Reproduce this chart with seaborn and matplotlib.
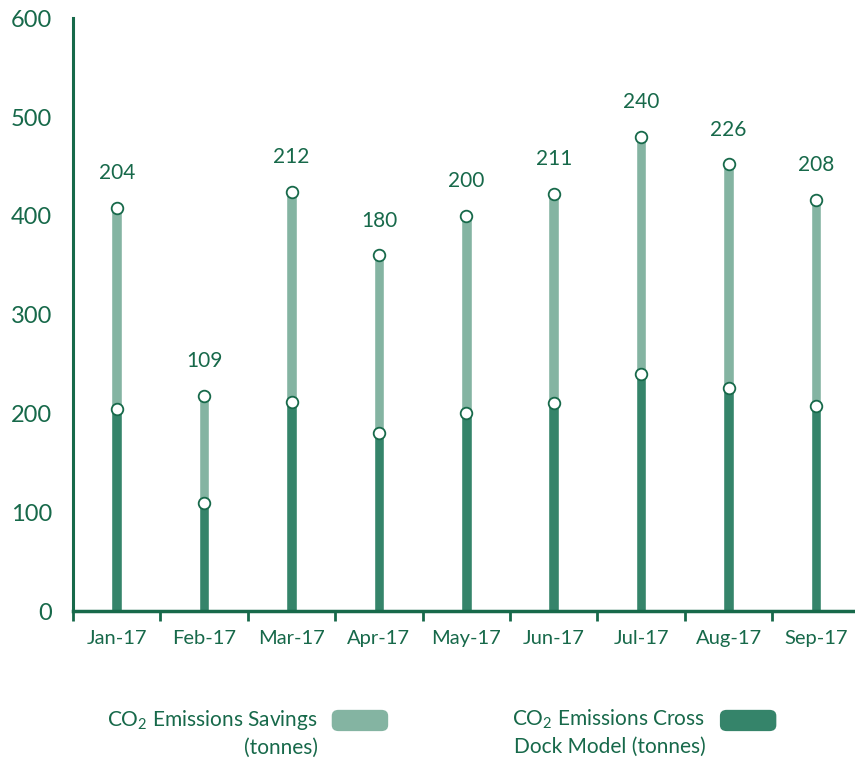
import matplotlib
matplotlib.use("Agg")
import matplotlib.pyplot as plt
from matplotlib.patches import FancyBboxPatch
import seaborn as sns
import pandas as pd

months = ["Jan-17", "Feb-17", "Mar-17", "Apr-17", "May-17", "Jun-17", "Jul-17", "Aug-17", "Sep-17"]
cross_dock = [204, 109, 212, 180, 200, 211, 240, 226, 208]
savings = [204, 109, 212, 180, 200, 211, 240, 226, 208]
y_ticks = [0, 100, 200, 300, 400, 500, 600]

TEXT = "#17694a"
DARK = "#35846a"
LIGHT = "#84b4a2"

sns.set_theme(style="white")
plt.rcParams["font.family"] = ["Lato", "DejaVu Sans"]
plt.rcParams["mathtext.fontset"] = "custom"
plt.rcParams["mathtext.rm"] = "Lato"
plt.rcParams["mathtext.it"] = "Lato"

df = pd.DataFrame({"month": months, "cross": cross_dock, "savings": savings})
df["total"] = df["cross"] + df["savings"]

fig = plt.figure(figsize=(8.55, 7.6), dpi=100)
ax = fig.add_axes([0.0854, 0.196, 0.920, 0.780])

sns.barplot(data=df, x="month", y="total", color=LIGHT, width=0.12,
            saturation=1, ax=ax)
sns.barplot(data=df, x="month", y="cross", color=DARK, width=0.12,
            saturation=1, ax=ax)

xs = range(len(months))
ax.scatter(xs, df["total"], s=70, facecolor="white", edgecolor=TEXT,
           linewidth=1.3, zorder=5, clip_on=False)
ax.scatter(xs, df["cross"], s=70, facecolor="white", edgecolor=TEXT,
           linewidth=1.3, zorder=5, clip_on=False)

for x, tot, lab in zip(xs, df["total"], df["savings"]):
    ax.annotate(f"{lab}", (x, tot), xytext=(0, 25), textcoords="offset points",
                ha="center", va="center", fontsize=15, color=TEXT)

ax.set_xlim(-0.5, len(months) - 0.5)
ax.set_ylim(0, 600)
ax.set_yticks(y_ticks)
ax.set_yticklabels([str(t) for t in y_ticks], fontsize=17, color=TEXT)
ax.set_xlabel("")
ax.set_ylabel("")

ax.set_xticks([i - 0.5 for i in range(len(months) + 1)], minor=False)
ax.set_xticklabels([""] * (len(months) + 1))
ax.set_xticks(list(xs), minor=True)
ax.set_xticklabels(months, minor=True, fontsize=14.5, color=TEXT)
ax.tick_params(axis="x", which="major", direction="out", length=7, width=2,
               color=TEXT, bottom=True)
ax.tick_params(axis="x", which="minor", length=0, pad=14)
ax.tick_params(axis="y", length=0, pad=15)

for side in ["top", "right"]:
    ax.spines[side].set_visible(False)
ax.spines["left"].set_color(TEXT)
ax.spines["left"].set_linewidth(2.2)
ax.spines["bottom"].set_color(TEXT)
ax.spines["bottom"].set_linewidth(2.5)

# legend built from text and rounded swatches
legend_items = [
    ("CO$_2$ Emissions Savings\n(tonnes)", LIGHT, 0.372, 0.388),
    ("CO$_2$ Emissions Cross\nDock Model (tonnes)", DARK, 0.825, 0.842),
]
for label, col, tx, px in legend_items:
    fig.text(tx, 0.069, label, ha="right", va="top", fontsize=15,
             color=TEXT, linespacing=1.4)
    fig.patches.append(FancyBboxPatch((px, 0.038), 0.066, 0.028,
                                      boxstyle="round,pad=0,rounding_size=0.008",
                                      transform=fig.transFigure, facecolor=col,
                                      edgecolor="none", figure=fig))

fig.savefig("out.png", dpi=100)
